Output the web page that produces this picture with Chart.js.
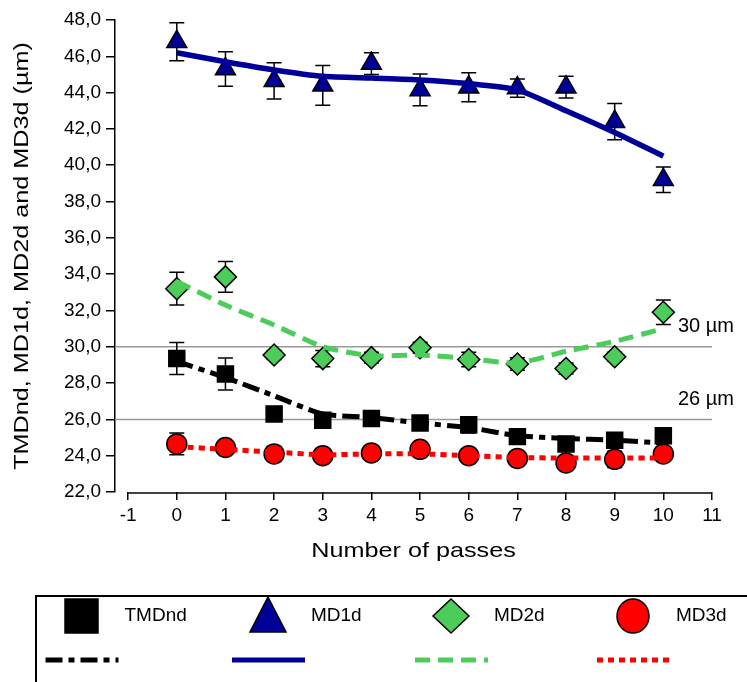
<!DOCTYPE html>
<html>
<head>
<meta charset="utf-8">
<script src="https://cdn.jsdelivr.net/npm/chart.js@4.4.0/dist/chart.umd.min.js"></script>
<style>
    body { margin: 0; background: #fff; }
    #graphe { display: block; }
</style>
</head>
<body>
<canvas id="graphe" width="747" height="682"></canvas>
<script>
// nombre de passes
const passes = [0, 1, 2, 3, 4, 5, 6, 7, 8, 9, 10];
const xTicks = [-1, 0, 1, 2, 3, 4, 5, 6, 7, 8, 9, 10, 11];

// moyennes, écarts et courbes de tendance (µm)
const tmdnd = [29.35, 28.5, 26.3, 25.95, 26.05, 25.8, 25.7, 25.05, 24.65, 24.85, 25.1];
const tmdndErr = [0.88, 0.88, 0.35, 0.35, 0.3, 0.3, 0.45, 0.25, 0.25, 0.3, 0.25];
const tmdndFit = [29.2, 28.3, 27.3, 26.3, 26.1, 25.8, 25.55, 25.1, 24.95, 24.85, 24.7];

const md1d = [46.8, 45.3, 44.65, 44.4, 45.6, 44.15, 44.3, 44.25, 44.3, 42.4, 39.2];
const md1dErr = [1.05, 0.95, 1.0, 1.1, 0.6, 0.88, 0.8, 0.5, 0.6, 1.0, 0.7];
const md1dFit = [46.2, 45.7, 45.25, 44.9, 44.8, 44.7, 44.5, 44.15, 43.0, 41.8, 40.5];

const md2d = [33.2, 33.85, 29.55, 29.35, 29.4, 29.95, 29.3, 29.05, 28.8, 29.45, 31.9];
const md2dErr = [0.9, 0.85, 0.25, 0.45, 0.3, 0.3, 0.4, 0.35, 0.3, 0.25, 0.68];
const md2dFit = [33.6, 32.3, 31.2, 30.0, 29.5, 29.55, 29.35, 29.1, 29.75, 30.3, 31.0];

const md3d = [24.65, 24.45, 24.1, 24.0, 24.15, 24.35, 24.0, 23.85, 23.6, 23.8, 24.1];
const md3dErr = [0.6, 0.3, 0.4, 0.3, 0.3, 0.35, 0.3, 0.3, 0.3, 0.45, 0.35];
const md3dFit = [24.5, 24.35, 24.2, 24.05, 24.1, 24.1, 24.0, 23.9, 23.87, 23.87, 23.87];

// seuils horizontaux
const seuils = [30, 26];
const seuilLabels = ['30 µm', '26 µm'];

const titreX = 'Number of passes';
const titreY = 'TMDnd, MD1d, MD2d and MD3d (µm)';

const police = "'Liberation Sans', Arial, sans-serif";
Chart.defaults.font.family = police;
Chart.defaults.color = '#000';

const series = [
    { label: 'TMDnd', mean: tmdnd, err: tmdndErr, fit: tmdndFit, style: 'rect', radius: 11.3, fill: '#000000', line: '#000000', dash: [17, 6, 6, 6], width: 5 },
    { label: 'MD1d', mean: md1d, err: md1dErr, fit: md1dFit, style: 'triangle', radius: 11.5, fill: '#000099', line: '#000099', dash: [], width: 5.5 },
    { label: 'MD2d', mean: md2d, err: md2dErr, fit: md2dFit, style: 'rectRot', radius: 11, fill: '#4ccd5a', line: '#4ccd5a', dash: [15, 8], width: 5 },
    { label: 'MD3d', mean: md3d, err: md3dErr, fit: md3dFit, style: 'circle', radius: 10, fill: '#ff0000', line: '#ff0000', dash: [6, 5], width: 5 }
];

function pts(values) {
    return passes.map((p, i) => ({ x: p, y: values[i] }));
}

const datasets = [];
series.forEach(s => {
    // courbe de tendance
    datasets.push({
        label: s.label + ' fit',
        data: pts(s.fit),
        borderColor: s.line,
        borderWidth: s.width,
        borderDash: s.dash,
        pointRadius: 0,
        fill: false,
        tension: 0.2,
        order: 0
    });
    // points mesurés
    datasets.push({
        label: s.label,
        data: pts(s.mean),
        showLine: false,
        pointStyle: s.style,
        pointRadius: s.radius,
        pointBackgroundColor: s.fill,
        pointBorderColor: '#000',
        pointBorderWidth: 1.5,
        order: 1
    });
});

// texte un peu étiré en largeur
function texteEtire(ctx, txt, x, y, angle, taille) {
    ctx.save();
    ctx.translate(x, y);
    ctx.rotate(angle);
    ctx.scale(1.2, 1);
    ctx.font = taille + 'px ' + police;
    ctx.fillStyle = '#000';
    ctx.textAlign = 'center';
    ctx.textBaseline = 'middle';
    ctx.fillText(txt, 0, 0);
    ctx.restore();
}

// barres d'erreur + seuils sous les points
const barresErreur = {
    id: 'barresErreur',
    beforeDatasetsDraw(chart) {
        const { ctx, chartArea, scales: { x, y } } = chart;
        ctx.save();
        ctx.strokeStyle = '#999';
        ctx.lineWidth = 1.5;
        seuils.forEach(v => {
            const py = y.getPixelForValue(v);
            ctx.beginPath();
            ctx.moveTo(chartArea.left, py);
            ctx.lineTo(chartArea.right, py);
            ctx.stroke();
        });
        ctx.strokeStyle = '#000';
        series.forEach(s => {
            s.mean.forEach((m, i) => {
                const px = x.getPixelForValue(passes[i]);
                const haut = y.getPixelForValue(m + s.err[i]);
                const bas = y.getPixelForValue(m - s.err[i]);
                ctx.beginPath();
                ctx.moveTo(px, haut); ctx.lineTo(px, bas);
                ctx.moveTo(px - 7.5, haut); ctx.lineTo(px + 7.5, haut);
                ctx.moveTo(px - 7.5, bas); ctx.lineTo(px + 7.5, bas);
                ctx.stroke();
            });
        });
        ctx.restore();
    },
    afterDraw(chart) {
        const { ctx, chartArea, scales: { x, y } } = chart;
        ctx.save();
        // axe x détaché, de -1 à 11
        ctx.strokeStyle = '#000';
        ctx.lineWidth = 1.5;
        ctx.beginPath();
        ctx.moveTo(x.getPixelForValue(xTicks[0]), chartArea.bottom + 1);
        ctx.lineTo(x.getPixelForValue(xTicks[xTicks.length - 1]), chartArea.bottom + 1);
        ctx.stroke();
        // textes des seuils
        ctx.fillStyle = '#000';
        ctx.font = '20px ' + police;
        ctx.textAlign = 'left';
        ctx.textBaseline = 'middle';
        seuils.forEach((v, i) => {
            ctx.fillText(seuilLabels[i], x.getPixelForValue(10.3), y.getPixelForValue(v + 1.1));
        });
        ctx.restore();
        // titres des axes
        texteEtire(ctx, titreX, (chartArea.left + chartArea.right) / 2, 551, 0, 21);
        texteEtire(ctx, titreY, 22, (chartArea.top + chartArea.bottom) / 2, -Math.PI / 2, 21);
    }
};

// légende encadrée en bas
const legendeBas = {
    id: 'legendeBas',
    afterDraw(chart) {
        const ctx = chart.ctx;
        ctx.save();
        ctx.strokeStyle = '#000';
        ctx.lineWidth = 2;
        ctx.strokeRect(36, 596, 760, 120);

        const xs = [81.5, 268, 451, 633];
        const yMark = 616;
        const yLigne = 660;
        series.forEach((s, i) => {
            const cx = xs[i];
            ctx.fillStyle = s.fill;
            ctx.strokeStyle = '#000';
            ctx.lineWidth = 1.5;
            ctx.setLineDash([]);
            ctx.beginPath();
            if (s.style === 'rect') {
                ctx.rect(cx - 16.5, yMark - 17, 33, 34);
            } else if (s.style === 'triangle') {
                ctx.moveTo(cx, yMark - 19);
                ctx.lineTo(cx + 18, yMark + 16);
                ctx.lineTo(cx - 18, yMark + 16);
                ctx.closePath();
            } else if (s.style === 'rectRot') {
                ctx.moveTo(cx, yMark - 17);
                ctx.lineTo(cx + 18, yMark);
                ctx.lineTo(cx, yMark + 17);
                ctx.lineTo(cx - 18, yMark);
                ctx.closePath();
            } else {
                ctx.ellipse(cx, yMark, 16, 17, 0, 0, Math.PI * 2);
            }
            ctx.fill();
            ctx.stroke();

            ctx.fillStyle = '#000';
            ctx.font = '19px ' + police;
            ctx.textAlign = 'left';
            ctx.textBaseline = 'middle';
            ctx.fillText(s.label, cx + 43, yMark);

            ctx.strokeStyle = s.line;
            ctx.lineWidth = 5;
            ctx.setLineDash(s.dash);
            ctx.beginPath();
            ctx.moveTo(cx - 36, yLigne);
            ctx.lineTo(cx + 37, yLigne);
            ctx.stroke();
        });
        ctx.restore();
    }
};

new Chart(document.getElementById('graphe'), {
    type: 'line',
    data: { datasets: datasets },
    options: {
        responsive: false,
        animation: false,
        layout: { padding: { left: 8, right: 35, top: 20, bottom: 112 } },
        plugins: {
            legend: { display: false },
            tooltip: { enabled: false }
        },
        scales: {
            x: {
                type: 'linear',
                min: -1.27,
                max: 11,
                afterBuildTicks: s => { s.ticks = xTicks.map(v => ({ value: v })); },
                afterFit: s => { s.height = 78; },
                grid: { drawOnChartArea: false, tickLength: 8, color: '#000', lineWidth: 1.5 },
                border: { display: false },
                ticks: { font: { size: 19 }, padding: 4, maxRotation: 0, autoSkip: false }
            },
            y: {
                min: 22,
                max: 48,
                afterFit: s => { s.width = 107; },
                grid: { drawOnChartArea: false, tickLength: 9, color: '#000', lineWidth: 1.5 },
                border: { display: true, color: '#000', width: 1.5 },
                ticks: { stepSize: 2, font: { size: 19 }, padding: 5, callback: v => v.toFixed(1).replace('.', ',') }
            }
        }
    },
    plugins: [barresErreur, legendeBas]
});
</script>
</body>
</html>
